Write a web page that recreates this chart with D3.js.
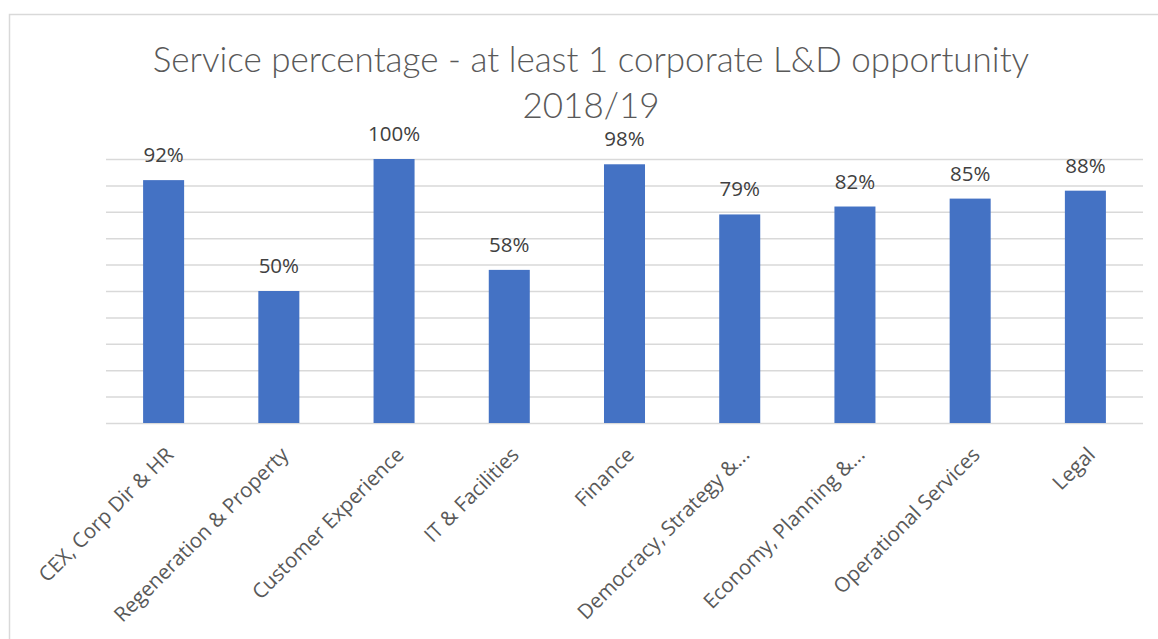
<!DOCTYPE html>
<html>
<head>
<meta charset="utf-8">
<script src="https://cdn.jsdelivr.net/npm/d3@7"></script>
<style>
  body { margin: 0; background: #fff; }
  svg { display: block; }
  .title { font-family: Lato, "Open Sans", sans-serif; font-weight: 300; fill: #595959; }
  .lbl { font-family: "Open Sans", sans-serif; fill: #404040; }
  .cat text { font-family: "Open Sans", sans-serif; fill: #595959; }
</style>
</head>
<body>
<div id="chart"></div>
<script>
const services = ["CEX, Corp Dir & HR", "Regeneration & Property", "Customer Experience",
  "IT & Facilities", "Finance", "Democracy, Strategy &...", "Economy, Planning &...",
  "Operational Services", "Legal"];
const percentages = [0.92, 0.50, 1.00, 0.58, 0.98, 0.79, 0.82, 0.85, 0.88];
const gridTicks = [0, 0.1, 0.2, 0.3, 0.4, 0.5, 0.6, 0.7, 0.8, 0.9, 1.0];
const titleLines = ["Service percentage - at least 1 corporate L&D opportunity", "2018/19"];

const svgWidth = 1158;
const svgHeight = 639;
const margin = { top: 159, right: 15, bottom: 216, left: 106 };
const width = svgWidth - margin.left - margin.right;
const height = svgHeight - margin.top - margin.bottom;

const svg = d3.select("#chart")
  .append("svg")
  .attr("width", svgWidth)
  .attr("height", svgHeight);

// chart border
svg.append("rect")
  .attr("x", 9.5).attr("y", 14.5)
  .attr("width", svgWidth).attr("height", svgHeight)
  .attr("fill", "none")
  .attr("stroke", "#d9d9d9")
  .attr("stroke-width", 1.5);

svg.selectAll(".title")
  .data(titleLines)
  .enter()
  .append("text")
  .attr("class", "title")
  .attr("x", 591)
  .attr("y", (d, i) => 72 + i * 46)
  .attr("text-anchor", "middle")
  .style("font-size", "35px")
  .text(d => d);

const chartGroup = svg.append("g")
  .attr("transform", `translate(${margin.left}, ${margin.top})`);

const x = d3.scaleBand()
  .domain(services)
  .range([0, width])
  .paddingInner(0.644)
  .paddingOuter(0.322);

const y = d3.scaleLinear()
  .domain([0, 1])
  .range([height, 0]);

// gridlines
const grid = chartGroup.append("g")
  .call(d3.axisLeft(y).tickValues(gridTicks).tickSize(-width).tickFormat(""));
grid.select(".domain").remove();
grid.selectAll("line").attr("stroke", "#d9d9d9").attr("stroke-width", 1.5);

chartGroup.selectAll("rect.bar")
  .data(percentages)
  .enter()
  .append("rect")
  .attr("class", "bar")
  .attr("x", (d, i) => x(services[i]))
  .attr("y", d => y(d))
  .attr("width", x.bandwidth())
  .attr("height", d => height - y(d))
  .attr("fill", "#4472c4");

chartGroup.selectAll("text.lbl")
  .data(percentages)
  .enter()
  .append("text")
  .attr("class", "lbl")
  .attr("x", (d, i) => x(services[i]) + x.bandwidth() / 2)
  .attr("y", d => y(d) - 18)
  .attr("text-anchor", "middle")
  .style("font-size", "20.5px")
  .text(d => d3.format(".0%")(d));

const cat = chartGroup.append("g")
  .attr("class", "cat")
  .attr("transform", `translate(0, ${height})`)
  .call(d3.axisBottom(x).tickSize(0));
cat.select(".domain").remove();
cat.selectAll("text")
  .attr("y", 0)
  .attr("dy", 0)
  .attr("transform", "translate(11, 33) rotate(-45)")
  .style("text-anchor", "end")
  .style("font-size", "20.5px");
</script>
</body>
</html>
